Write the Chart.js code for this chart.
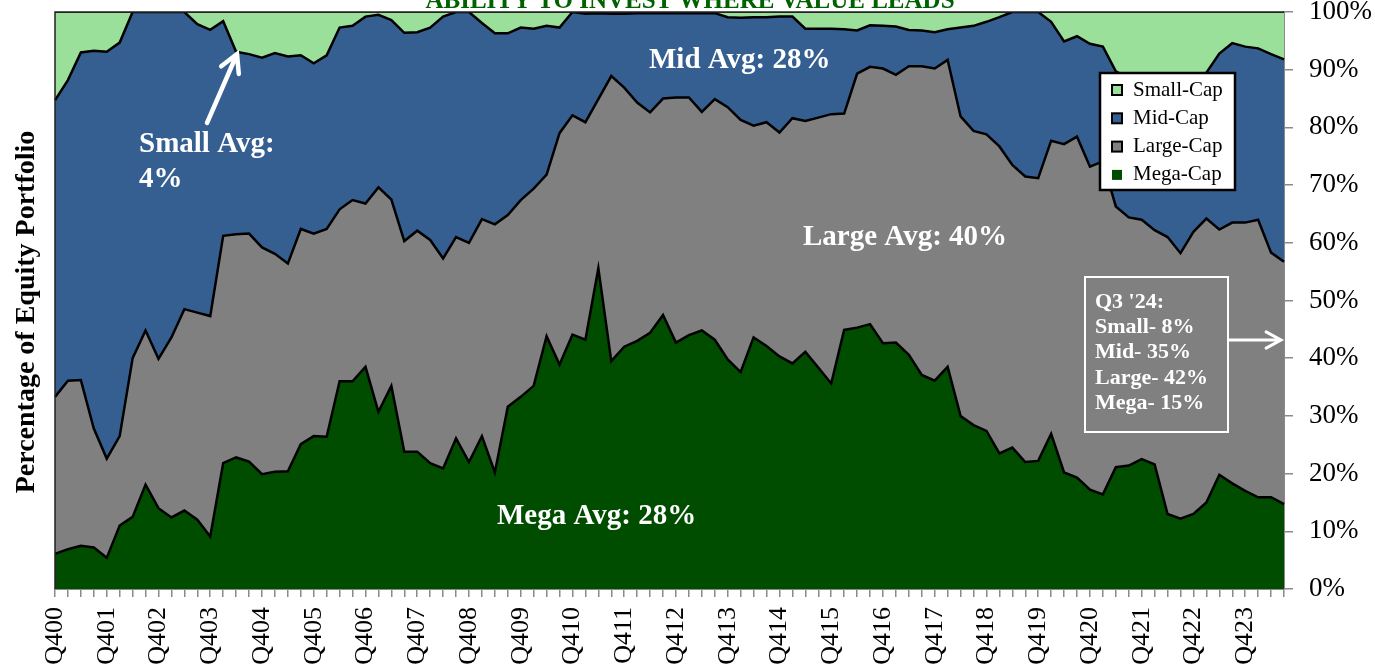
<!DOCTYPE html>
<html>
<head>
<meta charset="utf-8">
<script src="https://cdn.jsdelivr.net/npm/chart.js@4.4.1/dist/chart.umd.min.js"></script>
<style>
  body { margin: 0; background: #fff; }
  canvas { display: block; }
</style>
</head>
<body>
<canvas id="myChart" width="1375" height="667"></canvas>
<script>
var quarters = ['Q400',
    'Q101', 'Q201', 'Q301', 'Q401', 'Q102', 'Q202', 'Q302', 'Q402', 'Q103', 'Q203', 'Q303', 'Q403',
    'Q104', 'Q204', 'Q304', 'Q404', 'Q105', 'Q205', 'Q305', 'Q405', 'Q106', 'Q206', 'Q306', 'Q406',
    'Q107', 'Q207', 'Q307', 'Q407', 'Q108', 'Q208', 'Q308', 'Q408', 'Q109', 'Q209', 'Q309', 'Q409',
    'Q110', 'Q210', 'Q310', 'Q410', 'Q111', 'Q211', 'Q311', 'Q411', 'Q112', 'Q212', 'Q312', 'Q412',
    'Q113', 'Q213', 'Q313', 'Q413', 'Q114', 'Q214', 'Q314', 'Q414', 'Q115', 'Q215', 'Q315', 'Q415',
    'Q116', 'Q216', 'Q316', 'Q416', 'Q117', 'Q217', 'Q317', 'Q417', 'Q118', 'Q218', 'Q318', 'Q418',
    'Q119', 'Q219', 'Q319', 'Q419', 'Q120', 'Q220', 'Q320', 'Q420', 'Q121', 'Q221', 'Q321', 'Q421',
    'Q122', 'Q222', 'Q322', 'Q422', 'Q123', 'Q223', 'Q323', 'Q423', 'Q124', 'Q224', 'Q324'];

// share of equity portfolio, percent
var megaCap = [
    6.1, 6.9, 7.5, 7.2, 5.4, 11.0, 12.5, 18.1, 14.0, 12.4, 13.6, 12.0,
    9.1, 21.8, 22.8, 22.1, 19.9, 20.3, 20.4, 25.1, 26.5, 26.4, 36.0, 36.0,
    38.5, 30.7, 35.2, 23.8, 23.8, 21.8, 20.9, 26.1, 22.0, 26.5, 20.2, 31.6,
    33.3, 35.2, 43.8, 38.9, 44.1, 43.2, 55.6, 39.5, 42.0, 43.0, 44.4, 47.5,
    42.7, 44.0, 44.8, 43.2, 39.8, 37.6, 43.6, 42.1, 40.3, 39.1, 41.1, 38.4,
    35.6, 44.9, 45.3, 45.9, 42.6, 42.7, 40.6, 37.1, 36.1, 38.5, 30.0, 28.4,
    27.4, 23.5, 24.5, 22.0, 22.2, 26.9, 20.2, 19.3, 17.2, 16.4, 21.1, 21.4,
    22.5, 21.6, 13.0, 12.2, 13.0, 15.0, 19.8, 18.3, 17.0, 15.9, 15.9, 14.7];
var largeCap = [
    27.2, 29.2, 28.7, 20.6, 17.2, 15.5, 27.5, 26.7, 25.9, 31.2, 34.9, 35.9,
    38.2, 39.4, 38.7, 39.5, 39.3, 37.8, 36.0, 37.3, 35.1, 36.0, 29.8, 31.4,
    28.3, 38.9, 32.3, 36.5, 38.3, 38.7, 36.4, 34.9, 38.0, 37.6, 43.0, 33.2,
    34.1, 34.2, 28.0, 40.1, 38.0, 37.7, 29.3, 49.4, 44.9, 41.3, 38.2, 37.5,
    42.5, 41.2, 37.9, 41.7, 43.7, 43.7, 36.7, 38.8, 38.8, 42.5, 40.0, 43.3,
    46.7, 37.5, 44.0, 44.6, 47.6, 46.4, 50.0, 53.5, 54.1, 53.2, 51.9, 51.0,
    51.4, 53.2, 49.0, 49.5, 49.0, 50.8, 56.9, 59.1, 56.0, 57.7, 45.2, 43.0,
    41.5, 40.6, 48.0, 46.0, 48.9, 49.2, 42.5, 45.2, 46.5, 48.1, 42.4, 42.0];
var midCap = [
    51.4, 52.1, 56.8, 65.5, 70.5, 68.2, 60.0, 55.2, 60.1, 56.4, 51.5, 50.0,
    49.6, 37.2, 31.6, 31.1, 32.9, 34.8, 35.9, 30.1, 29.5, 30.1, 31.5, 30.2,
    32.4, 29.9, 31.1, 36.1, 34.4, 36.8, 41.9, 39.0, 40.0, 34.0, 33.1, 31.5,
    29.9, 27.7, 25.8, 18.3, 17.9, 18.8, 14.9, 10.8, 12.8, 15.5, 17.2, 14.8,
    14.6, 14.6, 17.1, 14.9, 15.6, 17.7, 18.8, 18.2, 20.1, 17.6, 16.0, 15.4,
    14.8, 14.6, 7.5, 7.2, 7.4, 8.4, 6.3, 6.2, 6.3, 5.3, 15.4, 18.2,
    19.5, 22.4, 26.5, 28.5, 28.8, 20.6, 17.8, 17.4, 21.3, 19.9, 23.4, 24.1,
    24.0, 25.3, 26.0, 29.3, 26.1, 25.3, 30.5, 31.1, 30.5, 29.7, 34.4, 35.1];
var smallCap = [
    15.3, 11.8, 7.0, 6.7, 6.9, 5.3, 0, 0, 0, 0, 0, 2.1,
    3.1, 1.6, 6.9, 7.3, 7.9, 7.1, 7.7, 7.5, 8.9, 7.5, 2.7, 2.4,
    0.8, 0.5, 1.4, 3.6, 3.5, 2.7, 0.8, 0, 0, 1.9, 3.7, 3.7,
    2.7, 2.9, 2.4, 2.7, 0, 0.3, 0.2, 0.3, 0.3, 0.2, 0.2, 0.2,
    0.2, 0.2, 0.2, 0.2, 0.9, 1.0, 0.9, 0.9, 0.8, 0.8, 2.9, 2.9,
    2.9, 3.0, 3.2, 2.3, 2.4, 2.5, 3.1, 3.2, 3.5, 3.0, 2.7, 2.4,
    1.7, 0.9, 0, 0, 0, 1.7, 5.1, 4.2, 5.5, 6.0, 10.3, 11.5,
    12.0, 12.5, 13.0, 12.5, 12.0, 10.5, 7.2, 5.4, 6.0, 6.3, 7.3, 8.2];
var yTicks = [0, 10, 20, 30, 40, 50, 60, 70, 80, 90, 100];

var serif = '"Liberation Serif", serif';
Chart.defaults.font.family = serif;
Chart.defaults.color = '#000';

function arrow(c, x1, y1, x2, y2, w, head) {
    var ang = Math.atan2(y2 - y1, x2 - x1);
    c.lineWidth = w;
    c.lineCap = 'round';
    c.beginPath();
    c.moveTo(x1, y1);
    c.lineTo(x2, y2);
    c.moveTo(x2 - head * Math.cos(ang - 0.5), y2 - head * Math.sin(ang - 0.5));
    c.lineTo(x2, y2);
    c.lineTo(x2 - head * Math.cos(ang + 0.5), y2 - head * Math.sin(ang + 0.5));
    c.stroke();
}

var overlay = {
    id: 'overlay',
    afterDraw: function (chart) {
        var c = chart.ctx;
        var a = chart.chartArea;
        c.save();

        // plot frame (top and left)
        c.strokeStyle = '#222';
        c.lineWidth = 1.5;
        c.beginPath();
        c.moveTo(a.left, a.bottom);
        c.lineTo(a.left, a.top);
        c.lineTo(a.right, a.top);
        c.stroke();

        // cropped title
        c.fillStyle = '#006100';
        c.font = 'bold 25px ' + serif;
        c.textAlign = 'center';
        c.textBaseline = 'alphabetic';
        c.fillText('ABILITY TO INVEST WHERE VALUE LEADS', 690, 8);

        // y axis title
        c.save();
        c.translate(27, 312);
        c.rotate(-Math.PI / 2);
        c.fillStyle = '#000';
        c.font = 'bold 28px ' + serif;
        c.textBaseline = 'middle';
        c.fillText('Percentage of Equity Portfolio', 0, 0);
        c.restore();

        // averages
        c.fillStyle = '#fff';
        c.strokeStyle = '#fff';
        c.textAlign = 'left';
        c.font = 'bold 29px ' + serif;
        c.fillText('Small Avg:', 139, 152);
        c.fillText('4%', 139, 187);
        c.fillText('Mid Avg: 28%', 649, 68);
        c.fillText('Large Avg: 40%', 803, 245);
        c.fillText('Mega Avg: 28%', 497, 524);
        arrow(c, 207, 123, 237, 54, 4.5, 20);

        // latest quarter box
        c.lineWidth = 2;
        c.strokeRect(1085, 277, 143, 155);
        c.font = 'bold 22px ' + serif;
        var lines = ["Q3 '24:", 'Small- 8%', 'Mid- 35%', 'Large- 42%', 'Mega- 15%'];
        lines.forEach(function (t, i) {
            c.fillText(t, 1095, 308 + i * 25.2);
        });
        arrow(c, 1229, 340, a.right - 3, 340, 3, 17);

        // legend
        c.fillStyle = '#fff';
        c.fillRect(1100, 73, 135, 117);
        c.strokeStyle = '#000';
        c.lineWidth = 2.5;
        c.strokeRect(1100, 73, 135, 117);
        c.font = '21px ' + serif;
        c.textBaseline = 'middle';
        var ds = chart.data.datasets;
        for (var k = 0; k < ds.length; k++) {
            var d = ds[ds.length - 1 - k];
            var cy = 90 + k * 28.3;
            c.fillStyle = d.backgroundColor;
            c.fillRect(1112, cy - 5, 10, 10);
            if (k < 3) {
                c.lineWidth = 2;
                c.strokeRect(1112, cy - 5, 10, 10);
            }
            c.fillStyle = '#000';
            c.fillText(d.label, 1133, cy);
        }
        c.restore();
    }
};

var common = { borderColor: '#000', borderWidth: 2.5, pointRadius: 0, pointHoverRadius: 0, tension: 0 };

var ctx = document.getElementById('myChart').getContext('2d');
var chart = new Chart(ctx, {
    type: 'line',
    data: {
        labels: quarters,
        datasets: [
            Object.assign({ label: 'Mega-Cap', data: megaCap, backgroundColor: '#004D00', fill: 'origin' }, common),
            Object.assign({ label: 'Large-Cap', data: largeCap, backgroundColor: '#808080', fill: '-1' }, common),
            Object.assign({ label: 'Mid-Cap', data: midCap, backgroundColor: '#365F91', fill: '-1' }, common),
            Object.assign({}, common, { label: 'Small-Cap', data: smallCap, backgroundColor: '#9ADF9A', fill: '-1', borderWidth: 1.5 })
        ]
    },
    options: {
        responsive: false,
        animation: false,
        layout: { padding: { left: 55, top: 12, right: 0, bottom: 0 } },
        plugins: {
            legend: { display: false },
            tooltip: { enabled: false },
            filler: { drawTime: 'beforeDatasetsDraw' }
        },
        scales: {
            x: {
                grid: { drawOnChartArea: false, color: '#8a8a8a', tickLength: 8, lineWidth: 1.5 },
                border: { color: '#8a8a8a', width: 2 },
                ticks: {
                    autoSkip: false, maxRotation: 90, minRotation: 90, padding: 10,
                    font: { size: 26 },
                    callback: function (v, i) {
                        return quarters[i].charAt(1) === '4' ? quarters[i] : '';
                    }
                },
                afterFit: function (s) {
                    s.height = 78;
                    s.paddingLeft = 0;
                    s.paddingRight = 0;
                }
            },
            y: {
                stacked: true,
                position: 'right',
                min: 0,
                max: 100,
                afterBuildTicks: function (s) {
                    s.ticks = yTicks.map(function (v) { return { value: v }; });
                },
                grid: { drawOnChartArea: false, color: '#8a8a8a', tickLength: 9, lineWidth: 1.5 },
                border: { color: '#8a8a8a', width: 2 },
                ticks: {
                    padding: 16,
                    font: { size: 27 },
                    callback: function (v) { return v + '%'; }
                },
                afterFit: function (s) {
                    s.width = 91;
                    s.paddingTop = 0;
                    s.paddingBottom = 0;
                }
            }
        }
    },
    plugins: [overlay]
});
</script>
</body>
</html>
